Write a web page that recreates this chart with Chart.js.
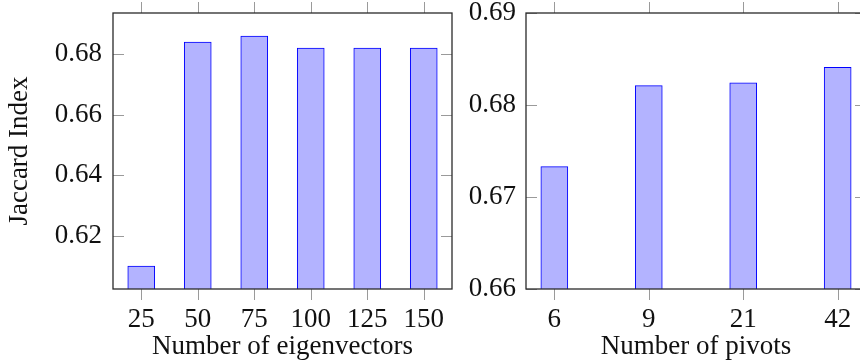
<!DOCTYPE html>
<html>
<head>
<meta charset="utf-8">
<script src="https://cdn.jsdelivr.net/npm/chart.js@4/dist/chart.umd.min.js"></script>
<style>
  html, body { margin: 0; padding: 0; background: #fff; overflow: hidden; }
  #wrap { position: relative; width: 860px; height: 362px; overflow: hidden; }
  #chartEig { position: absolute; left: 0; top: 0; }
  #chartPiv { position: absolute; left: 455px; top: 0; }
</style>
</head>
<body>
<div id="wrap">
  <canvas id="chartEig" width="460" height="362"></canvas>
  <canvas id="chartPiv" width="420" height="362"></canvas>
</div>
<script>
// 고유벡터 개수별 Jaccard
const eigLabels = ['25', '50', '75', '100', '125', '150'];
const eigScores = [0.610, 0.684, 0.686, 0.682, 0.682, 0.682];
const eigTicks = [0.62, 0.64, 0.66, 0.68];

// 피벗 개수별 Jaccard
const pivLabels = ['6', '9', '21', '42'];
const pivScores = [0.6733, 0.6821, 0.6824, 0.6841];
const pivTicks = [0.66, 0.67, 0.68, 0.69];

const FONT = "'Liberation Serif', 'Times New Roman', serif";
const FSIZE = 27;
const FILL = 'rgb(179,179,255)';
const EDGE = 'rgb(0,0,255)';

// 축 테두리 + 눈금 (x는 바깥쪽, y는 안쪽)
const frameTicks = {
	id: 'frameTicks',
	afterDraw: function(chart){
		const ctx = chart.ctx;
		const a = chart.chartArea;
		const xs = chart.scales.x, ys = chart.scales.y;
		const len = 11;
		ctx.save();
		ctx.strokeStyle = '#9a9a9a';
		ctx.lineWidth = 1;
		ctx.beginPath();
		xs.ticks.forEach(function(t, i){
			const px = Math.round(xs.getPixelForTick(i)) + 0.5;
			ctx.moveTo(px, a.top - len); ctx.lineTo(px, a.top);
			ctx.moveTo(px, a.bottom); ctx.lineTo(px, a.bottom + len);
		});
		ys.ticks.forEach(function(t, i){
			const py = Math.round(ys.getPixelForTick(i)) + 0.5;
			ctx.moveTo(a.left, py); ctx.lineTo(a.left + len, py);
			ctx.moveTo(a.right, py); ctx.lineTo(a.right - len, py);
		});
		ctx.stroke();
		ctx.strokeStyle = '#2a2a2a';
		ctx.lineWidth = 1.3;
		ctx.strokeRect(a.left, a.top, a.right - a.left, a.bottom - a.top);
		ctx.restore();
	}
};

function fixTicks(list){
	return function(scale){
		scale.ticks = list.map(function(v){ return {value: v}; });
	};
}

// 라벨 넘침 여백 없애고 크기 고정
function fixX(h){
	return function(s){ s.height = h; s.paddingLeft = 0; s.paddingRight = 0; };
}
function fixY(w){
	return function(s){ s.width = w; s.paddingTop = 0; s.paddingBottom = 0; };
}

// pgfplots 처럼 위아래 10% 여유
const eigMin = Math.min.apply(null, eigScores), eigMax = Math.max.apply(null, eigScores);
const eigPad = (eigMax - eigMin) * 0.1;

new Chart(document.getElementById('chartEig'), {
	type: 'bar',
	data: {
		labels: eigLabels,
		datasets: [{
			data: eigScores,
			backgroundColor: FILL,
			borderColor: EDGE,
			borderWidth: 1,
			barThickness: 27
		}]
	},
	options: {
		responsive: false,
		animation: false,
		events: [],
		layout: { padding: { top: 13, right: 8, left: 0, bottom: 0 } },
		plugins: { legend: { display: false }, tooltip: { enabled: false } },
		scales: {
			x: {
				type: 'category',
				offset: true,
				grid: { display: false, drawTicks: false },
				border: { display: false },
				ticks: { color: '#111', font: { family: FONT, size: FSIZE }, padding: 15, maxRotation: 0 },
				title: { display: true, text: 'Number of eigenvectors', color: '#111',
					font: { family: FONT, size: FSIZE }, padding: { top: 0, bottom: -1 } },
				afterFit: fixX(73)
			},
			y: {
				min: eigMin - eigPad,
				max: eigMax + eigPad,
				grid: { display: false, drawTicks: false },
				border: { display: false },
				afterBuildTicks: fixTicks(eigTicks),
				ticks: { color: '#111', font: { family: FONT, size: FSIZE }, padding: 11,
					callback: function(v){ return v.toFixed(2); } },
				title: { display: true, text: 'Jaccard Index', color: '#111',
					font: { family: FONT, size: FSIZE }, padding: { top: 4, bottom: 0 } },
				afterFit: fixY(113)
			}
		}
	},
	plugins: [frameTicks]
});

new Chart(document.getElementById('chartPiv'), {
	type: 'bar',
	data: {
		datasets: [{
			data: pivScores.map(function(v, i){ return {x: i, y: v}; }),
			backgroundColor: FILL,
			borderColor: EDGE,
			borderWidth: 1,
			barThickness: 27
		}]
	},
	options: {
		responsive: false,
		animation: false,
		events: [],
		layout: { padding: { top: 13, right: 9, left: 0, bottom: 0 } },
		plugins: { legend: { display: false }, tooltip: { enabled: false } },
		scales: {
			x: {
				type: 'linear',
				min: -0.3,
				max: 3.3,
				offset: false,
				grid: { display: false, drawTicks: false },
				border: { display: false },
				afterBuildTicks: fixTicks([0, 1, 2, 3]),
				ticks: { color: '#111', font: { family: FONT, size: FSIZE }, padding: 15, maxRotation: 0,
					callback: function(v){ return pivLabels[v]; } },
				title: { display: true, text: 'Number of pivots', color: '#111',
					font: { family: FONT, size: FSIZE }, padding: { top: 0, bottom: -1 } },
				afterFit: fixX(73)
			},
			y: {
				min: 0.66,
				max: 0.69,
				grid: { display: false, drawTicks: false },
				border: { display: false },
				afterBuildTicks: fixTicks(pivTicks),
				ticks: { color: '#111', font: { family: FONT, size: FSIZE }, padding: 10,
					callback: function(v){ return v.toFixed(2); } },
				afterFit: fixY(71)
			}
		}
	},
	plugins: [frameTicks]
});
</script>
</body>
</html>
